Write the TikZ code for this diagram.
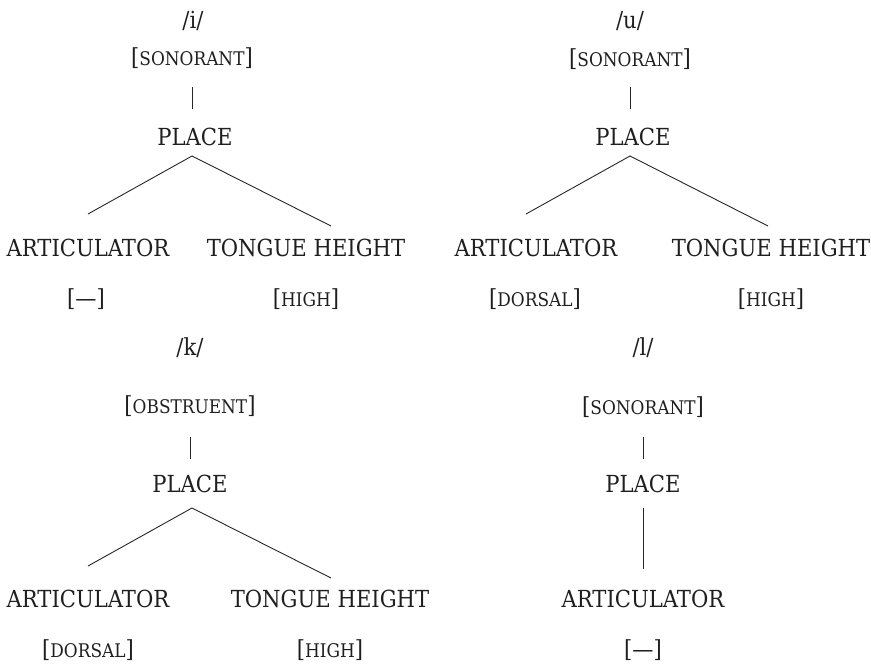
\documentclass[tikz,border=0pt]{standalone}
\usepackage{fontspec}
\setmainfont{DejaVu Serif Condensed}
\newcommand\fsc[1]{{\fontsize{18.8}{22}\selectfont #1}}
\begin{document}
\begin{tikzpicture}[x=1pt,y=-1pt,
  lbl/.style={anchor=base,inner sep=0pt,font=\fontsize{23.5}{28}\selectfont,text=black!88},
  edge/.style={draw=black!85,line width=0.9pt}]
\useasboundingbox (0,0) rectangle (871,664);
% ---------- /i/ ----------
\node[lbl] (i) at (193,28) {/i/};
\node[lbl] (iF) at (192,65) {[\fsc{SONORANT}]};
\node[lbl] (iP) at (195,145) {PLACE};
\node[lbl] (iA) at (88,256) {ARTICULATOR};
\node[lbl] (iT) at (306,256) {TONGUE HEIGHT};
\node[lbl] (iAv) at (86,306) {[—]};
\node[lbl] (iTv) at (306,306) {[\fsc{HIGH}]};
\coordinate (iB1) at (192,87); \coordinate (iB2) at (192,109);
\coordinate (iAp) at (192,156); \coordinate (iL) at (88,214); \coordinate (iR) at (331,226);
\draw[edge] (iB1) -- (iB2);
\draw[edge] (iL) -- (iAp) -- (iR);
% ---------- /u/ ----------
\node[lbl] (u) at (630,28) {/u/};
\node[lbl] (uF) at (630,66.5) {[\fsc{SONORANT}]};
\node[lbl] (uP) at (633,145) {PLACE};
\node[lbl] (uA) at (536,256) {ARTICULATOR};
\node[lbl] (uT) at (771,256) {TONGUE HEIGHT};
\node[lbl] (uAv) at (535,306) {[\fsc{DORSAL}]};
\node[lbl] (uTv) at (771,306) {[\fsc{HIGH}]};
\coordinate (uB1) at (630,87); \coordinate (uB2) at (630,109);
\coordinate (uAp) at (630,156); \coordinate (uL) at (526,214); \coordinate (uR) at (768,226);
\draw[edge] (uB1) -- (uB2);
\draw[edge] (uL) -- (uAp) -- (uR);
% ---------- /k/ ----------
\node[lbl] (k) at (190,355) {/k/};
\node[lbl] (kF) at (190,413) {[\fsc{OBSTRUENT}]};
\node[lbl] (kP) at (190,492) {PLACE};
\node[lbl] (kA) at (88,607) {ARTICULATOR};
\node[lbl] (kT) at (330,607) {TONGUE HEIGHT};
\node[lbl] (kAv) at (88,657) {[\fsc{DORSAL}]};
\node[lbl] (kTv) at (330,657) {[\fsc{HIGH}]};
\coordinate (kB1) at (190,437); \coordinate (kB2) at (190,459);
\coordinate (kAp) at (192,508); \coordinate (kL) at (88,566); \coordinate (kR) at (331,578);
\draw[edge] (kB1) -- (kB2);
\draw[edge] (kL) -- (kAp) -- (kR);
% ---------- /l/ ----------
\node[lbl] (l) at (643,355) {/l/};
\node[lbl] (lF) at (643,414) {[\fsc{SONORANT}]};
\node[lbl] (lP) at (643,492) {PLACE};
\node[lbl] (lA) at (643,607) {ARTICULATOR};
\node[lbl] (lAv) at (643,657) {[—]};
\coordinate (lB1) at (643,437); \coordinate (lB2) at (643,459);
\coordinate (lT) at (643,508); \coordinate (lD) at (643,569);
\draw[edge] (lB1) -- (lB2);
\draw[edge] (lT) -- (lD);
\end{tikzpicture}
\end{document}
